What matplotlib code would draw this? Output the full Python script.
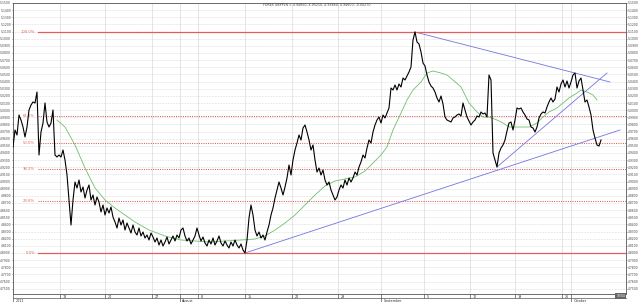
"""GBPPLN daily-ish price chart with Fibonacci retracement and trend lines."""

import numpy as np
import matplotlib

matplotlib.use("Agg")
import matplotlib.pyplot as plt
from matplotlib.transforms import blended_transform_factory

title = "FOREX GBPPLN = 4.94850, 4.95210, 4.93860, 4.94600, -0.00270"

# close price per bar (bar index = position in list)
close = [
    4.9484, 4.9722, 4.9652, 4.9932, 4.9862, 4.9764, 4.9624, 4.9764, 5.0002, 5.0072,
    5.0114, 5.0100, 5.0254, 4.9372, 4.9694, 4.9820, 5.0100, 4.9834, 4.9764, 4.9820,
    5.0002, 4.9372, 4.9344, 4.9372, 4.9344, 4.9442, 4.9302, 4.9092, 4.8742, 4.8392,
    4.8742, 4.8994, 4.8910, 4.9022, 4.8854, 4.8924, 4.8770, 4.8882, 4.8952, 4.8742,
    4.8812, 4.8672, 4.8784, 4.8714, 4.8574, 4.8672, 4.8532, 4.8630, 4.8560, 4.8644,
    4.8504, 4.8434, 4.8350, 4.8490, 4.8392, 4.8462, 4.8322, 4.8420, 4.8350, 4.8280,
    4.8392, 4.8294, 4.8252, 4.8350, 4.8238, 4.8294, 4.8210, 4.8252, 4.8182, 4.8280,
    4.8224, 4.8154, 4.8210, 4.8112, 4.8182, 4.8098, 4.8154, 4.8224, 4.8126, 4.8182,
    4.8238, 4.8168, 4.8252, 4.8210, 4.8322, 4.8350, 4.8238, 4.8168, 4.8210, 4.8126,
    4.8182, 4.8238, 4.8350, 4.8252, 4.8168, 4.8224, 4.8140, 4.8098, 4.8182, 4.8126,
    4.8210, 4.8112, 4.8168, 4.8238, 4.8140, 4.8098, 4.8168, 4.8112, 4.8070, 4.8154,
    4.8098, 4.8182, 4.8112, 4.8070, 4.8126, 4.8042, 4.8000, 4.8182, 4.8490, 4.8672,
    4.8532, 4.8322, 4.8238, 4.8294, 4.8210, 4.8252, 4.8182, 4.8294, 4.8392, 4.8532,
    4.8630, 4.8770, 4.8882, 4.8994, 4.8910, 4.8812, 4.8924, 4.9050, 4.9232, 4.9092,
    4.9302, 4.9442, 4.9540, 4.9652, 4.9582, 4.9750, 4.9792, 4.9694, 4.9582, 4.9442,
    4.9512, 4.9302, 4.9134, 4.9190, 4.9092, 4.9162, 4.9022, 4.8952, 4.8994, 4.8882,
    4.8812, 4.8742, 4.8784, 4.8882, 4.8952, 4.8910, 4.9022, 4.8952, 4.9050, 4.8994,
    4.9050, 4.9134, 4.9092, 4.9204, 4.9274, 4.9372, 4.9330, 4.9470, 4.9582, 4.9540,
    4.9694, 4.9792, 4.9862, 4.9904, 4.9820, 4.9932, 4.9890, 4.9960, 5.0030, 5.0310,
    5.0282, 5.0352, 5.0282, 5.0366, 5.0324, 5.0450, 5.0422, 5.0478, 5.0534, 5.0604,
    5.0982, 5.1094, 5.0954, 5.0926, 5.0814, 5.0660, 5.0618, 5.0492, 5.0394, 5.0338,
    5.0310, 5.0254, 5.0170, 5.0114, 5.0198, 5.0086, 4.9904, 4.9862, 4.9848, 4.9834,
    4.9890, 4.9904, 4.9932, 4.9946, 4.9918, 5.0100, 5.0002, 4.9904, 4.9848, 4.9792,
    4.9834, 4.9862, 4.9918, 4.9904, 4.9974, 4.9946, 4.9960, 4.9904, 5.0492, 5.0422,
    4.9400, 4.9302, 4.9204, 4.9400, 4.9470, 4.9512, 4.9582, 4.9708, 4.9820, 4.9834,
    4.9722, 4.9862, 5.0030, 5.0016, 5.0030, 4.9974, 4.9932, 4.9876, 4.9862, 4.9764,
    4.9750, 4.9694, 4.9764, 4.9890, 4.9946, 4.9974, 4.9960, 5.0044, 5.0114, 5.0170,
    5.0114, 5.0156, 5.0324, 5.0254, 5.0366, 5.0422, 5.0324, 5.0408, 5.0310, 5.0394,
    5.0492, 5.0520, 5.0310, 5.0408, 5.0450, 5.0282, 5.0114, 5.0142, 5.0044, 4.9932,
    4.9722, 4.9610, 4.9512, 4.9498, 4.9582,
]

# moving average (green), read at selected bars
ma_bar = [22, 26, 31, 36, 41, 46, 51, 56, 61, 68, 76, 84, 91, 98, 106, 114, 121, 126,
          131, 136, 141, 146, 151, 156, 161, 166, 171, 176, 180, 184, 187, 190, 194,
          197, 200, 204, 207, 210, 214, 217, 220, 224, 228, 232, 235, 238, 242, 245,
          248, 252, 255, 258, 262, 265, 268, 272, 275, 278, 282, 284, 287, 290, 292]
ma_val = [4.9862, 4.9764, 4.9512, 4.9190, 4.8910, 4.8742, 4.8630, 4.8532, 4.8434,
          4.8322, 4.8238, 4.8182, 4.8168, 4.8154, 4.8168, 4.8182, 4.8196, 4.8238,
          4.8322, 4.8420, 4.8532, 4.8672, 4.8812, 4.8938, 4.9008, 4.9036, 4.9064,
          4.9148, 4.9260, 4.9372, 4.9484, 4.9722, 4.9960, 5.0142, 5.0282, 5.0394,
          5.0520, 5.0548, 5.0520, 5.0492, 5.0422, 5.0324, 5.0100, 4.9974, 4.9904,
          4.9904, 4.9862, 4.9820, 4.9764, 4.9764, 4.9764, 4.9764, 4.9820, 4.9904,
          4.9974, 5.0030, 5.0100, 5.0170, 5.0240, 5.0282, 5.0254, 5.0212, 5.0142]

# trend lines: (start bar, start price, end bar, end price)
trend_resistance = (201, 5.1094, 298.5, 5.0394)
trend_support_long = (116, 4.8000, 303.5, 4.9722)
trend_support_short = (242, 4.9204, 297, 5.0520)

fib_ratios = [0.0, 0.236, 0.382, 0.5, 0.618, 1.0]
fib_labels = ["0.0%", "23.6%", "38.2%", "50.0%", "61.8%", "100.0%"]

week_pos = [23.5, 46, 69.5, 92.5, 116, 139.5, 162.5, 205.5, 228.5, 251, 274.5]
week_labels = ["13", "20", "27", "8", "15", "22", "29", "5", "12", "19", "26"]
month_pos = [0, 83.5, 184, 279]
month_labels = ["2011", "August", "September", "October"]
last_label = "10/04"

y_ticks = np.round(np.arange(4.75, 5.1501, 0.01), 2)

RED = "#e25c5c"
BLUE = "#7474e0"
GREEN = "#6cc06c"
AXIS = "#555555"

fig = plt.figure(figsize=(6.4, 3.02), dpi=100)
ax = fig.add_axes([13 / 640, 8 / 302, 613 / 640, 291 / 302])
x_max = 306.5

bars = np.arange(len(close))
lo, hi = min(close), max(close)

ax.set_xlim(0, x_max)
ax.set_ylim(4.7426, 5.15)

ax.set_yticks(y_ticks)
ax.set_yticklabels([f"{v:.4f}" for v in y_ticks])
ax.tick_params(axis="y", left=True, right=True, labelleft=True, labelright=True,
               labelsize=2.2, length=1.0, width=0.4, pad=0.4, colors="#444444")
ax.set_xticks([])
ax.grid(axis="y", color="#c8c8c8", lw=0.45, ls=(0, (1, 1.5)))
for pos in week_pos + month_pos:
    ax.axvline(pos, color="#dadada", lw=0.5, zorder=0)

for spine in ax.spines.values():
    spine.set_color(AXIS)
    spine.set_linewidth(0.6)

# fibonacci retracement
for ratio, label in zip(fib_ratios, fib_labels):
    level = lo + ratio * (hi - lo)
    if ratio in (0.0, 1.0):
        ax.axhline(level, xmin=12.5 / x_max, color=RED, lw=0.9, zorder=3.8)
    else:
        ax.axhline(level, xmin=12.5 / x_max, color=RED, lw=0.75, ls=(0, (1, 1.2)), zorder=2)
    ax.text(11, level, label, color=RED, fontsize=2.7, ha="right", va="center")

ax.plot(ma_bar, ma_val, color=GREEN, lw=0.6, zorder=3)
for x0, y0, x1, y1 in (trend_resistance, trend_support_long, trend_support_short):
    ax.plot([x0, x1], [y0, y1], color=BLUE, lw=0.6, zorder=3.6)
ax.plot(bars, close, color="black", lw=0.8, zorder=4)

# date axis drawn as two rows under the plot
trans = blended_transform_factory(ax.transData, ax.transAxes)
px = 1 / 291
ax.plot([0, 1], [-4 * px, -4 * px], transform=ax.transAxes, color=AXIS, lw=0.5, clip_on=False)
for pos, lab in zip(week_pos, week_labels):
    ax.plot([pos, pos], [0, -4 * px], transform=trans, color=AXIS, lw=0.5, clip_on=False)
    ax.text(pos + 1.2, -0.5 * px, lab, transform=trans, fontsize=2.4, color="#333333",
            ha="left", va="top")
for pos, lab in zip(month_pos, month_labels):
    ax.plot([pos, pos], [0, -9 * px], transform=trans, color=AXIS, lw=0.5, clip_on=False)
    ax.text(pos + 1.2, -4.6 * px, lab, transform=trans, fontsize=2.4, color="#333333",
            ha="left", va="top")
ax.text(306, -2 * px, last_label, transform=trans, fontsize=2.2, color="white",
        ha="right", va="center",
        bbox=dict(boxstyle="square,pad=0.3", facecolor="#666666", edgecolor="none"))

fig.text(317 / 640, 1 - 5 / 302, title, ha="center", va="center", fontsize=2.3, color="#444444")

fig.savefig("out.png", dpi=100, facecolor="white")
